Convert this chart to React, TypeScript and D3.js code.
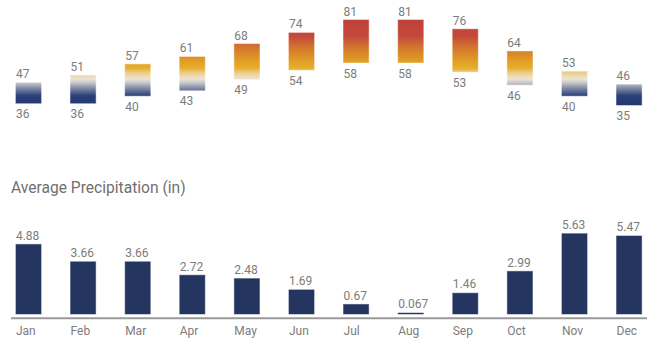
import React from "react";
import * as d3 from "d3";

const months = ["Jan", "Feb", "Mar", "Apr", "May", "Jun", "Jul", "Aug", "Sep", "Oct", "Nov", "Dec"];
const highs = [47, 51, 57, 61, 68, 74, 81, 81, 76, 64, 53, 46];
const lows = [36, 36, 40, 43, 49, 54, 58, 58, 53, 46, 40, 35];
const precip = [4.88, 3.66, 3.66, 2.72, 2.48, 1.69, 0.67, 0.067, 1.46, 2.99, 5.63, 5.47];
const precipLabels = ["4.88", "3.66", "3.66", "2.72", "2.48", "1.69", "0.67", "0.067", "1.46", "2.99", "5.63", "5.47"];

const gradTemps = [35, 40, 44, 47, 49, 52, 55, 58, 63, 68, 72, 81];
const gradColors = ["#233870", "#2a3f77", "#7f88a6", "#c6c6cb", "#ece4d2", "#ecd197", "#e7ae2c", "#e3a126", "#d9872a", "#cf6a31", "#c4493a", "#c0403a"];

const W = 659;
const H = 351;
const FONT = "Roboto, 'Noto Sans', sans-serif";
const TXT = "#7c7c7c";

export default function App() {
  const x = d3.scaleBand<string>().domain(months).range([1.2, 656.4]).paddingInner(0.54).paddingOuter(0.27);
  const yT = d3.scaleLinear().domain([35, 81]).range([105, 20]);
  const yP = d3.scaleLinear().domain([0, 5.63]).range([314, 233.7]);
  const bw = x.bandwidth();
  const t0 = 35, t1 = 81;

  return (
    <svg width={W} height={H} style={{ position: "absolute", left: 0, top: 0, display: "block" }} fontFamily={FONT}>
      <defs>
        <linearGradient id="tempGrad" gradientUnits="userSpaceOnUse" x1={0} x2={0} y1={yT(t0)} y2={yT(t1)}>
          {gradTemps.map((t, i) => (
            <stop key={i} offset={(t - t0) / (t1 - t0)} stopColor={gradColors[i]} />
          ))}
        </linearGradient>
      </defs>
      <rect x={0} y={0} width={W} height={H} fill="#fff" />
      {months.map((m, i) => {
        const x0 = x(m) as number;
        const top = yT(highs[i]);
        const bot = yT(lows[i]);
        return (
          <g key={m}>
            <rect x={x0} y={top} width={bw} height={bot - top} fill="url(#tempGrad)" stroke="url(#tempGrad)" strokeOpacity={0.55} strokeWidth={1} />
            <text x={x0} y={top - 4.5} fontSize={12} fill={TXT}>{highs[i]}</text>
            <text x={x0} y={bot + 15} fontSize={12} fill={TXT}>{lows[i]}</text>
          </g>
        );
      })}
      <text x={11} y={193} fontSize={15.6} fill="#707070">Average Precipitation (in)</text>
      {months.map((m, i) => {
        const x0 = x(m) as number;
        const top = yP(precip[i]);
        return (
          <g key={"p" + m}>
            <rect x={x0} y={top} width={bw} height={yP(0) - top} fill="#24355f" stroke="#24355f" strokeOpacity={0.5} strokeWidth={1} />
            <text x={x0} y={top - 4.7} fontSize={12} fill={TXT}>{precipLabels[i]}</text>
            <text x={x0} y={335} fontSize={12} fill={TXT}>{m}</text>
          </g>
        );
      })}
      <line x1={11} x2={647} y1={318.3} y2={318.3} stroke="#9a9a9a" strokeWidth={2} />
    </svg>
  );
}
